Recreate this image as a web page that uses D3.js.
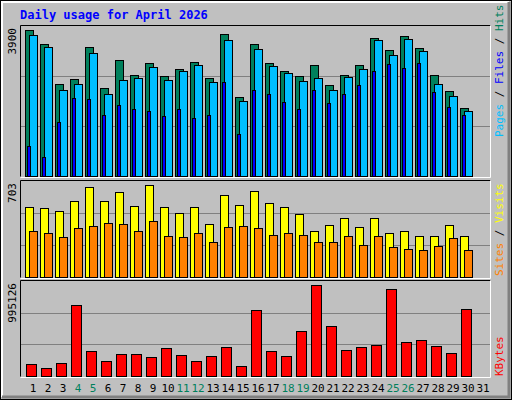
<!DOCTYPE html>
<html><head><meta charset="utf-8">
<script src="https://cdn.jsdelivr.net/npm/d3@7"></script>
<style>body{margin:0;background:#fff}text{font-family:"DejaVu Sans Mono",monospace}</style>
</head><body><div id="chart"></div>
<script>
var days = d3.range(1, 32);
var weekends = [4, 5, 11, 12, 18, 19, 25, 26];
var hits = [3789,3427,2394,2523,3350,2291,3014,2627,2937,2601,2782,2963,2549,3686,2059,3427,2937,2730,2601,2885,2369,2627,2885,3583,3272,3634,3324,2627,2214,1774,0];
var files = [3667,3350,2239,2394,3195,2136,2497,2549,2833,2497,2730,2885,2446,3531,1955,3298,2859,2679,2472,2549,2239,2575,2782,3531,3143,3557,3247,2394,2085,1697,0];
var pages = [775,491,1395,2041,2015,1576,1852,1731,1697,1550,1731,1498,1576,2454,1085,2247,2136,1937,1731,2247,1903,2136,2369,2730,2911,2808,2937,2188,1800,1594,0];
var visits = [513,506,484,557,659,557,623,520,674,513,469,513,389,601,528,630,542,513,462,338,382,433,367,433,324,338,302,302,382,302,0];
var sites = [338,324,294,360,375,397,389,338,411,302,294,324,258,367,375,360,309,324,309,258,258,302,236,302,222,207,200,229,287,200,0];
var kbytes = [129000,80000,140000,745000,265000,161000,234000,234000,202000,296000,223000,161000,213000,307000,108000,693000,265000,213000,474000,953000,526000,275000,307000,328000,912000,359000,380000,317000,244000,703000,0];

var W = 512, H = 400;
var svg = d3.select('#chart').append('svg').attr('width', W).attr('height', H);

// outer frame
svg.append('rect').attr('x', 0.5).attr('y', 0.5).attr('width', W - 1).attr('height', H - 1)
    .attr('fill', '#c0c0c0').attr('stroke', '#000');
svg.append('path').attr('d', 'M2,397V2H509').attr('stroke', '#fff').attr('stroke-width', 2).attr('fill', 'none');
svg.append('path').attr('d', 'M509,2V397H2').attr('stroke', '#808080').attr('stroke-width', 3).attr('fill', 'none');

svg.append('text').attr('x', 20).attr('y', 19).attr('fill', '#0000ff')
    .attr('font-weight', 'bold').attr('font-size', 12).text('Daily usage for April 2026');

var x = d3.scaleLinear().domain([1, 2]).range([25, 40]);

function panel(top, bottom, max, label) {
    svg.append('rect').attr('x', 20.5).attr('y', top + 0.5).attr('width', 470).attr('height', bottom - top)
        .attr('fill', '#c0c0c0');
    svg.append('path').attr('d', 'M20.5,' + (bottom + 0.5) + 'V' + (top + 0.5) + 'H490.5').attr('stroke', '#000').attr('fill', 'none');
    svg.append('path').attr('d', 'M490.5,' + (top + 0.5) + 'V' + (bottom + 1.5) + 'H20.5').attr('stroke', '#fff').attr('fill', 'none');
    var y = d3.scaleLinear().domain([0, max]).range([bottom, top + 1]);
    [1, 2].forEach(function(k) {
        svg.append('line').attr('x1', 21).attr('x2', 490)
            .attr('y1', Math.round(y(max * k / 3)) + 0.5).attr('y2', Math.round(y(max * k / 3)) + 0.5)
            .attr('stroke', '#808080');
    });
    svg.append('text').attr('transform', 'translate(16,' + (top + 3) + ') rotate(-90)')
        .attr('text-anchor', 'end').attr('font-size', 11).attr('fill', '#000').text(label);
    return y;
}

function bars(data, y, dx, w, fill) {
    svg.append('g').selectAll('rect').data(data).enter().filter(function(d) { return d > 0; })
        .append('rect')
        .attr('x', function(d, i) { return x(data.indexOf(d) >= 0 ? 0 : 0); })
        .remove();
    svg.append('g').selectAll('rect').data(days.filter(function(d, i) { return data[i] > 0; }))
        .enter().append('rect')
        .attr('x', function(d) { return x(d) + dx + 0.5; })
        .attr('y', function(d) { return Math.round(y(data[d - 1])) + 0.5; })
        .attr('width', w)
        .attr('height', function(d) { return y(0) - Math.round(y(data[d - 1])); })
        .attr('fill', fill).attr('stroke', '#000');
}

var y1 = panel(25, 176, 3900, '3900');
bars(hits, y1, 0, 8, '#00805c');
bars(files, y1, 4, 8, '#00bfff');
bars(pages, y1, 2, 3, '#0000ff');

var y2 = panel(180, 277, 703, '703');
bars(visits, y2, 0, 8, '#ffff00');
bars(sites, y2, 4, 8, '#ff8000');

var y3 = panel(280, 376, 995126, '995126');
bars(kbytes, y3, 1, 10, '#ff0000');

svg.append('g').selectAll('text').data(days).enter().append('text')
    .attr('x', function(d) { return x(d) + 8; })
    .attr('y', 392).attr('text-anchor', 'middle').attr('font-size', 11)
    .attr('fill', function(d) { return weekends.indexOf(d) >= 0 ? '#00805c' : '#000'; })
    .text(function(d) { return d; });

function sideLabel(y, parts) {
    var t = svg.append('text').attr('transform', 'translate(503,' + y + ') rotate(-90)')
        .attr('font-size', 11);
    parts.forEach(function(p) { t.append('tspan').attr('fill', p[1]).text(p[0]); });
}
sideLabel(137, [['Pages', '#00bfff'], [' / ', '#000'], ['Files', '#0000ff'], [' / ', '#000'], ['Hits', '#00805c']]);
sideLabel(276, [['Sites', '#ff8000'], [' / ', '#000'], ['Visits', '#ffff00']]);
sideLabel(376, [['KBytes', '#ff0000']]);
</script></body></html>
